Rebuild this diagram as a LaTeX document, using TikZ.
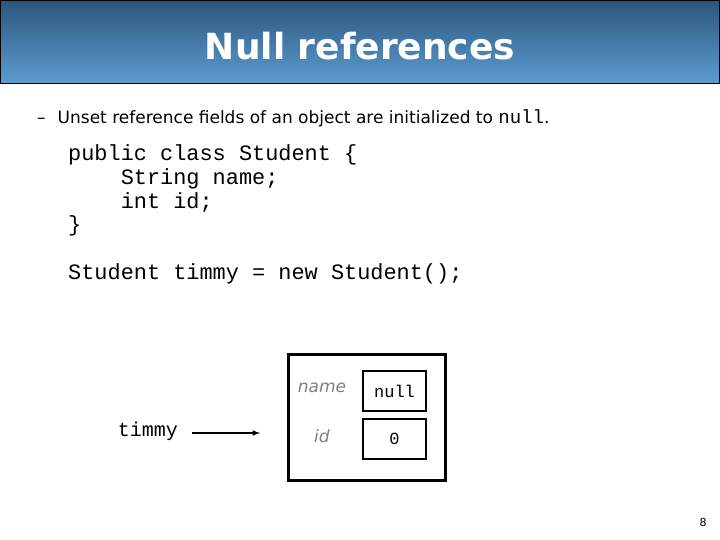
\documentclass[tikz,border=0pt]{standalone}
\usepackage{fontspec}
\setmainfont{DejaVu Sans}
\setmonofont{Liberation Mono}
\newfontfamily\titlefont{DejaVu Sans}
\begin{document}
\begin{tikzpicture}[x=1pt,y=-1pt,
  cell/.style={draw,line width=1.3pt,minimum width=63pt,minimum height=40pt,inner sep=0pt,font=\ttfamily\fontsize{17}{17}\selectfont},
  fld/.style={text=gray,font=\itshape\fontsize{17}{17}\selectfont},
  code/.style={anchor=base west,font=\ttfamily\fontsize{21.9}{21.9}\selectfont,inner sep=0pt}]
\useasboundingbox (0,0) rectangle (720,540);
\fill[white] (0,0) rectangle (720,540);
\shade[top color={rgb,255:red,44;green,86;blue,124},bottom color={rgb,255:red,92;green,156;blue,210},draw=black,line width=1pt] (0.5,0.5) rectangle (719.5,84);
\node[text=white,font=\titlefont\bfseries\fontsize{36}{36}\selectfont] (title) at (360,46) {Null references};
\node[anchor=base west,inner sep=0pt,font=\fontsize{17}{17}\selectfont] (bullet) at (37,124) {–\hspace{12pt}Unset reference fields of an object are initialized to \texttt{\fontsize{19}{19}\selectfont null}.};
\node[code] (c1) at (68,161) {public class Student \{};
\node[code] (c2) at (68,184.5) {\phantom{xxxx}String name;};
\node[code] (c3) at (68,208) {\phantom{xxxx}int id;};
\node[code] (c4) at (68,231.5) {\}};
\node[code] (c5) at (68,279) {Student timmy = new Student();};
\node[draw,line width=3pt,minimum width=157pt,minimum height=126pt,inner sep=0pt] (obj) at (366.5,417) {};
\node[cell] (nullbox) at (394.5,391) {null};
\node[cell] (zerobox) at (394.5,439) {0};
\node[fld] (name) at (322,388) {name};
\node[fld] (id) at (322,436) {id};
\node[font=\ttfamily\fontsize{20}{20}\selectfont] (timmy) at (148,431) {timmy};
\coordinate (tip) at (260,433);
\draw[line width=1.5pt,-latex] (192,433) -- (tip);
\node[font=\fontsize{11}{11}\selectfont] (page) at (703,522) {8};
\end{tikzpicture}
\end{document}
